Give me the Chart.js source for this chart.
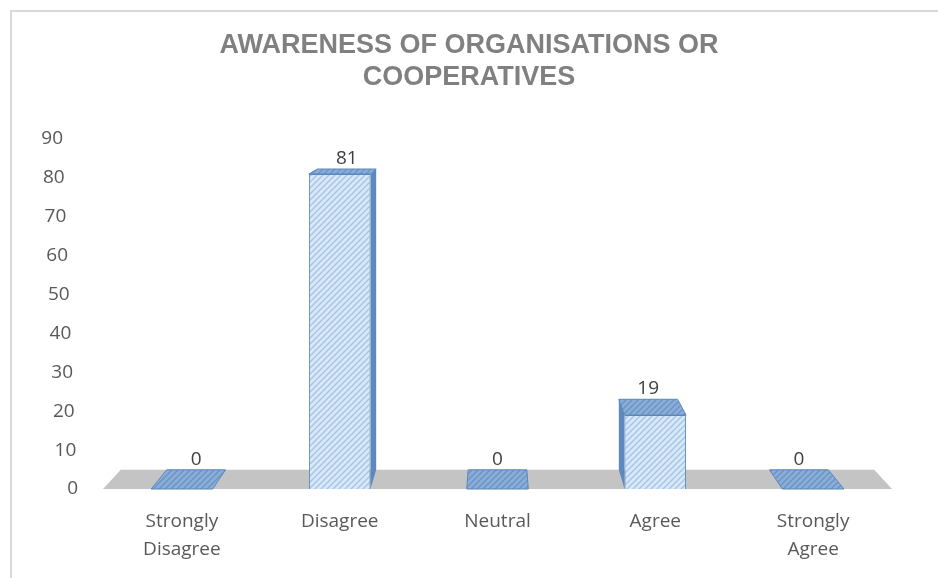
<!DOCTYPE html>
<html>
<head>
<meta charset="utf-8">
<script src="https://cdn.jsdelivr.net/npm/chart.js@4/dist/chart.umd.min.js"></script>
<style>
  html, body { margin: 0; padding: 0; background: #fff; }
  #wrap { width: 938px; height: 578px; }
</style>
</head>
<body>
<div id="wrap"><canvas id="chart" width="938" height="578"></canvas></div>
<script>
// survey answers
var categories = [["Strongly", "Disagree"], "Disagree", "Neutral", "Agree", ["Strongly", "Agree"]];
var responses = [0, 81, 0, 19, 0];
var yMin = 0, yMax = 90, yStep = 10;

var canvas = document.getElementById("chart");
var context = canvas.getContext("2d");

// diagonal hatch fill used on the bar faces
function hatch(bg, fg) {
    var c = document.createElement("canvas");
    c.width = 6; c.height = 6;
    var g = c.getContext("2d");
    g.fillStyle = bg;
    g.fillRect(0, 0, 6, 6);
    g.strokeStyle = fg;
    g.lineWidth = 1.4;
    g.beginPath();
    g.moveTo(0, 6); g.lineTo(6, 0);
    g.moveTo(-1, 1); g.lineTo(1, -1);
    g.moveTo(5, 7); g.lineTo(7, 5);
    g.stroke();
    return context.createPattern(c, "repeat");
}

var frontFill = hatch("#d9e8f8", "#a3c4e8");
var topFill = hatch("#8aaed8", "#6b92c2");
var sideColor = "#5e89bf";
var edgeColor = "#5b87bd";

// one point perspective for the depth of bars and floor
var depth = 0.045;
var vanishY = 63;

function back(x, y, vx) {
    return [x + depth * (vx - x), y + depth * (vanishY - y)];
}

function poly(ctx, pts, fill) {
    ctx.beginPath();
    ctx.moveTo(pts[0][0], pts[0][1]);
    for (var i = 1; i < pts.length; i++) ctx.lineTo(pts[i][0], pts[i][1]);
    ctx.closePath();
    ctx.fillStyle = fill;
    ctx.fill();
}

var threeD = {
    id: "threeD",
    beforeDraw: function(chart) {
        var ctx = chart.ctx;
        ctx.save();
        ctx.strokeStyle = "#d9d9d9";
        ctx.lineWidth = 2;
        ctx.beginPath();
        ctx.moveTo(11, 578); ctx.lineTo(11, 11); ctx.lineTo(938, 11);
        ctx.stroke();
        ctx.restore();
    },
    beforeDatasetsDraw: function(chart) {
        var ctx = chart.ctx;
        var area = chart.chartArea;
        var vx = (area.left + area.right) / 2;
        var base = chart.scales.y.getPixelForValue(0);
        ctx.save();
        // floor
        var fl = [[area.left, base], [area.right, base], back(area.right, base, vx), back(area.left, base, vx)];
        poly(ctx, fl, "#c4c4c4");
        // side and top faces
        chart.getDatasetMeta(0).data.forEach(function(bar) {
            var L = bar.x - bar.width / 2, R = bar.x + bar.width / 2;
            var T = bar.y, B = bar.base;
            if (bar.x < vx - 5) {
                poly(ctx, [[R, T], [R, B], back(R, B, vx), back(R, T, vx)], sideColor);
            } else if (bar.x > vx + 5) {
                poly(ctx, [[L, T], [L, B], back(L, B, vx), back(L, T, vx)], sideColor);
            }
            var tp = [[L, T], [R, T], back(R, T, vx), back(L, T, vx)];
            poly(ctx, tp, topFill);
            ctx.strokeStyle = edgeColor;
            ctx.lineWidth = 1;
            ctx.stroke();
        });
        ctx.restore();
    },
    afterDatasetsDraw: function(chart) {
        var ctx = chart.ctx;
        var area = chart.chartArea;
        var vx = (area.left + area.right) / 2;
        var y = chart.scales.y;
        ctx.save();
        ctx.font = "19px 'Open Sans'";
        ctx.fillStyle = "#404040";
        ctx.textAlign = "center";
        ctx.textBaseline = "alphabetic";
        chart.getDatasetMeta(0).data.forEach(function(bar, i) {
            var p = back(bar.x, bar.y, vx);
            ctx.fillText(String(responses[i]), p[0], p[1] - 5);
        });
        // value axis labels lean with the back wall
        ctx.fillStyle = "#595959";
        ctx.textAlign = "right";
        ctx.textBaseline = "middle";
        y.ticks.forEach(function(t) {
            var py = y.getPixelForValue(t.value);
            var px = 63 + (py - area.top) * 15 / (area.bottom - area.top);
            ctx.fillText(String(t.value), px, py);
        });
        ctx.restore();
    }
};

var chart = new Chart(context, {
    type: "bar",
    data: {
        labels: categories,
        datasets: [{
            data: responses,
            backgroundColor: frontFill,
            borderColor: edgeColor,
            borderWidth: 1,
            barPercentage: 0.39,
            categoryPercentage: 1
        }]
    },
    options: {
        responsive: false,
        animation: false,
        layout: { padding: 0 },
        plugins: {
            legend: { display: false },
            tooltip: { enabled: false },
            title: {
                display: true,
                text: ["AWARENESS OF ORGANISATIONS OR", "COOPERATIVES"],
                color: "#808080",
                font: { family: "'Liberation Sans', Arial, sans-serif", size: 27, weight: "bold", lineHeight: 1.2 },
                padding: { top: 29, bottom: 45.2 }
            }
        },
        scales: {
            x: {
                grid: { display: false },
                border: { display: false },
                ticks: {
                    color: "#595959",
                    font: { family: "'Open Sans'", size: 19, lineHeight: 1.47 },
                    padding: 11,
                    maxRotation: 0,
                    autoSkip: false
                },
                afterFit: function(scale) { scale.height = 89; }
            },
            y: {
                min: yMin,
                max: yMax,
                grid: { display: false },
                border: { display: false },
                ticks: { display: false, stepSize: yStep },
                afterFit: function(scale) { scale.width = 103; }
            },
            // empty margin on the right of the plot
            yRight: {
                position: "right",
                grid: { display: false },
                border: { display: false },
                ticks: { display: false },
                afterFit: function(scale) { scale.width = 46; }
            }
        }
    },
    plugins: [threeD]
});
</script>
</body>
</html>
